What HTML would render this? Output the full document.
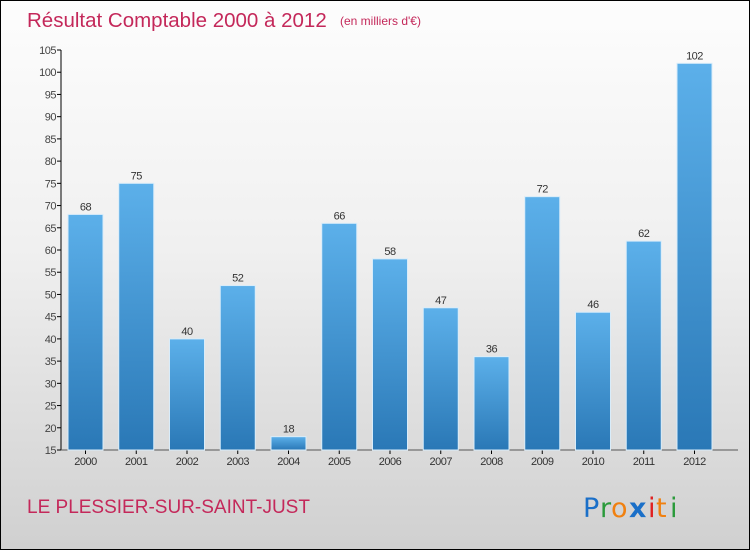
<!DOCTYPE html>
<html><head><meta charset="utf-8"><style>
body{margin:0;}
#c{width:750px;height:550px;position:relative;box-sizing:border-box;border:1px solid #000;background:linear-gradient(#fdfdfd 0%,#f0f0f0 45%,#d0d0d0 100%);font-family:"Liberation Sans",sans-serif;overflow:hidden}
</style></head><body>
<div id="c">
<svg width="750" height="550" style="position:absolute;left:-1px;top:-1px">
<defs><linearGradient id="bg" x1="0" y1="0" x2="0" y2="1"><stop offset="0" stop-color="#5cb0ea"/><stop offset="1" stop-color="#2a78b6"/></linearGradient></defs>
<text x="27" y="27" font-size="20.5" fill="#c4285a">Résultat Comptable 2000 à 2012</text>
<text x="340" y="25" font-size="12" fill="#c4285a">(en milliers d'€)</text>
<text x="27" y="513" font-size="19" fill="#c4285a">LE PLESSIER-SUR-SAINT-JUST</text>
<g font-size="27" font-family="'DejaVu Sans',sans-serif">
<text x="583" y="517" fill="#1a6fc8">P</text><text x="600" y="517" fill="#2a9a3a">r</text><text x="611" y="517" fill="#f08010">o</text><text x="629" y="517" fill="#1a6fc8" font-weight="bold">x</text><text x="648" y="517" fill="#e02020">i</text><text x="656" y="517" fill="#f08010">t</text><text x="670" y="517" fill="#2a9a3a">i</text></g>
<g id="axes"></g><g id="bars"></g>
</svg></div>
<script>
const years=["2000","2001","2002","2003","2004","2005","2006","2007","2008","2009","2010","2011","2012"];
const values=[68,75,40,52,18,66,58,47,36,72,46,62,102];
const yTicks=[15,20,25,30,35,40,45,50,55,60,65,70,75,80,85,90,95,100,105];
const NS="http://www.w3.org/2000/svg";
const y0=450,yMin=15,yMax=105,yTop=50;
const y=v=>y0-(v-yMin)*(y0-yTop)/(yMax-yMin);
const x=i=>68+i*50.75;
function mk(t,a,p){const e=document.createElementNS(NS,t);for(const k in a)e.setAttribute(k,a[k]);p.appendChild(e);return e;}
const ax=document.getElementById('axes'),bs=document.getElementById('bars');
const yl=mk('line',{x1:61,y1:yTop,x2:61,y2:y0,stroke:'#000'},ax);


const xl=mk('line',{x1:61,y1:y0,x2:738,y2:y0,stroke:'#555'},ax);


yTicks.forEach(t=>{
 mk('line',{x1:57,x2:61,y1:y(t),y2:y(t),stroke:'#000'},ax);
 const tx=mk('text',{x:56,y:y(t)+4,'font-size':11,fill:'#444','text-anchor':'end','letter-spacing':'-0.5'},ax);
 tx.textContent=t;
 
 
});
years.forEach((yr,i)=>{
 const v=values[i];
 const r=mk('rect',{x:x(i),y:y(v),width:35,height:y0-y(v),fill:'url(#bg)',stroke:'#d8ecfa','stroke-width':1},bs);
 
 
 const l=mk('text',{x:x(i)+17.5,y:y(v)-4,'font-size':11,fill:'#333','text-anchor':'middle','letter-spacing':'-0.5'},bs);
 l.textContent=v;
 
 
 mk('line',{x1:x(i)+17.5,x2:x(i)+17.5,y1:y0,y2:y0+4,stroke:'#000'},ax);
 const xt=mk('text',{x:x(i)+17.5,y:y0+15,'font-size':11,fill:'#333','text-anchor':'middle','letter-spacing':'-0.5'},ax);
 xt.textContent=yr;
 
 
});
</script>
</body></html>
